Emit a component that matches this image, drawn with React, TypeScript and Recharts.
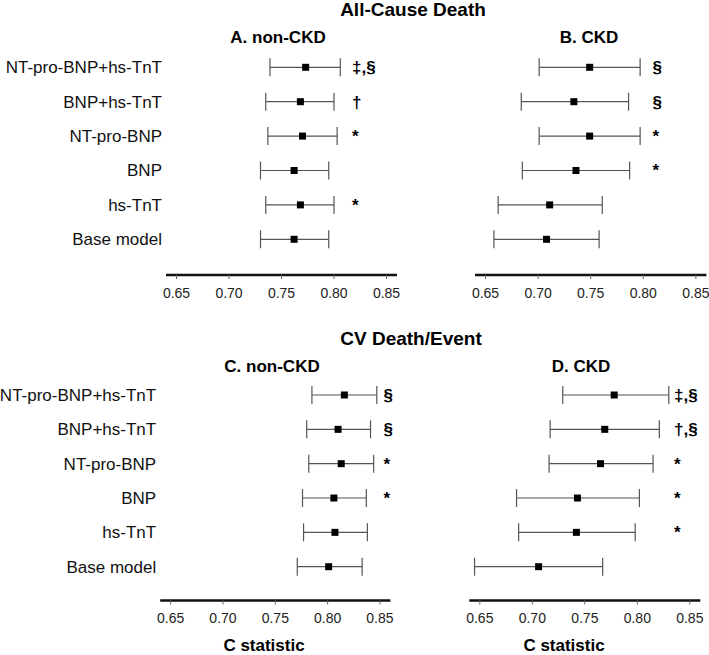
import React from "react";
import { ComposedChart, Scatter, ErrorBar, XAxis, YAxis } from "recharts";

const rowLabels = [
  "NT-pro-BNP+hs-TnT",
  "BNP+hs-TnT",
  "NT-pro-BNP",
  "BNP",
  "hs-TnT",
  "Base model",
];
const xTicks = [0.65, 0.7, 0.75, 0.8, 0.85];

// A. all-cause death, non-CKD
const aEst = [0.773, 0.768, 0.77, 0.762, 0.768, 0.762];
const aLow = [0.739, 0.735, 0.737, 0.73, 0.735, 0.73];
const aHigh = [0.806, 0.8, 0.803, 0.795, 0.8, 0.795];
const aSig = ["‡,§", "†", "*", "", "*", ""];

// B. all-cause death, CKD
const bEst = [0.749, 0.734, 0.749, 0.736, 0.711, 0.708];
const bLow = [0.701, 0.684, 0.701, 0.685, 0.662, 0.658];
const bHigh = [0.797, 0.786, 0.797, 0.787, 0.761, 0.758];
const bSig = ["§", "§", "*", "*", "", ""];

// C. CV death/event, non-CKD
const cEst = [0.816, 0.81, 0.813, 0.806, 0.807, 0.801];
const cLow = [0.785, 0.78, 0.782, 0.776, 0.777, 0.771];
const cHigh = [0.847, 0.841, 0.844, 0.837, 0.838, 0.833];
const cSig = ["§", "§", "*", "*", "", ""];

// D. CV death/event, CKD
const dEst = [0.778, 0.769, 0.765, 0.743, 0.742, 0.706];
const dLow = [0.729, 0.717, 0.716, 0.685, 0.687, 0.645];
const dHigh = [0.83, 0.821, 0.815, 0.802, 0.798, 0.767];
const dSig = ["‡,§", "†,§", "*", "*", "*", ""];

const buildRows = (est: number[], low: number[], high: number[], sig: string[]) =>
  rowLabels.map((name, i) => ({
    name,
    est: est[i],
    err: [est[i] - low[i], high[i] - est[i]],
    sig: sig[i],
  }));

const FONT = "'Liberation Sans', Arial, sans-serif";

type PanelProps = {
  rows: ReturnType<typeof buildRows>;
  left: number;
  top: number;
  width: number;
  height: number;
  margin: { top: number; right: number; bottom: number; left: number };
  labelWidth: number;
  showLabels: boolean;
  padTop: number;
  padBottom: number;
  sigX: number; // distance from the label anchor to the significance column
};

const Square = (props: any) => {
  const { cx, cy } = props;
  if (cx == null || cy == null) return <g />;
  return <rect x={cx - 3.5} y={cy - 3.5} width={7} height={7} fill="#000" />;
};

const Panel: React.FC<PanelProps> = ({
  rows, left, top, width, height, margin, labelWidth, showLabels, padTop, padBottom, sigX,
}) => {
  // row label on the left, significance marks in a column inside the plot
  const rowTick = (p: any) => {
    const row = rows[p.index] ?? rows.find((r) => r.name === p.payload?.value);
    if (!row) return <g />;
    return (
      <g>
        {showLabels && (
          <text x={p.x} y={p.y} dy="0.35em" fontSize={17} fill="#111" textAnchor="end">
            {row.name}
          </text>
        )}
        {row.sig && (
          <text x={p.x + sigX} y={p.y} dy="0.35em" fontSize={17} fontWeight="bold" fill="#000" textAnchor="start">
            {row.sig}
          </text>
        )}
      </g>
    );
  };

  return (
    <div style={{ position: "absolute", left, top }}>
      <ComposedChart layout="vertical" width={width} height={height} data={rows} margin={margin}>
        <XAxis
          type="number"
          domain={[0.64, 0.86]}
          ticks={xTicks}
          allowDataOverflow
          tickFormatter={(v: number) => v.toFixed(2)}
          axisLine={{ stroke: "#111", strokeWidth: 2.5 }}
          tickLine={{ stroke: "#666" }}
          tickSize={4}
          tickMargin={9}
          height={30}
          tick={{ fontSize: 14, fill: "#222" }}
        />
        <YAxis
          type="category"
          dataKey="name"
          width={labelWidth}
          interval={0}
          axisLine={false}
          tickLine={false}
          tickSize={4}
          tickMargin={0}
          padding={{ top: padTop, bottom: padBottom }}
          tick={rowTick}
        />
        <Scatter data={rows} dataKey="est" shape={Square} isAnimationActive={false}>
          <ErrorBar dataKey="err" direction="x" width={9} stroke="#555" strokeWidth={1.2} />
        </Scatter>
      </ComposedChart>
    </div>
  );
};

const Title: React.FC<{ text: string; cx: number; top: number; size: number }> = ({ text, cx, top, size }) => (
  <div
    style={{
      position: "absolute",
      left: cx - 150,
      width: 300,
      top,
      textAlign: "center",
      fontSize: size,
      lineHeight: 1.1,
      fontWeight: "bold",
      color: "#000",
      whiteSpace: "nowrap",
    }}
  >
    {text}
  </div>
);

const App: React.FC = () => {
  const rowsA = buildRows(aEst, aLow, aHigh, aSig);
  const rowsB = buildRows(bEst, bLow, bHigh, bSig);
  const rowsC = buildRows(cEst, cLow, cHigh, cSig);
  const rowsD = buildRows(dEst, dLow, dHigh, dSig);

  return (
    <div
      style={{
        position: "absolute",
        left: 0,
        top: 0,
        width: 709,
        height: 655,
        overflow: "hidden",
        background: "#fff",
        fontFamily: FONT,
      }}
    >
      <Title text="All-Cause Death" cx={413} top={0} size={19} />
      <Title text="A. non-CKD" cx={278} top={29} size={17} />
      <Title text="B. CKD" cx={589} top={29} size={17} />
      <Title text="CV Death/Event" cx={411} top={329} size={19} />
      <Title text="C. non-CKD" cx={272} top={358} size={17} />
      <Title text="D. CKD" cx={581} top={358} size={17} />
      <Title text="C statistic" cx={264} top={637} size={17} />
      <Title text="C statistic" cx={564} top={637} size={17} />

      <Panel
        rows={rowsA}
        left={0}
        top={0}
        width={409}
        height={305}
        margin={{ top: 50, right: 12, bottom: 0, left: 0 }}
        labelWidth={166}
        showLabels
        padTop={17.3}
        padBottom={35.7}
        sigX={190}
      />
      <Panel
        rows={rowsB}
        left={440}
        top={0}
        width={269}
        height={305}
        margin={{ top: 50, right: 2.6, bottom: 0, left: 34 }}
        labelWidth={1}
        showLabels={false}
        padTop={17.3}
        padBottom={35.7}
        sigX={181.6}
      />
      <Panel
        rows={rowsC}
        left={0}
        top={330}
        width={402}
        height={300.5}
        margin={{ top: 48, right: 11.6, bottom: 0, left: 0 }}
        labelWidth={160.2}
        showLabels
        padTop={17}
        padBottom={33.8}
        sigX={227.4}
      />
      <Panel
        rows={rowsD}
        left={440}
        top={330}
        width={269}
        height={300.5}
        margin={{ top: 48, right: 8.7, bottom: 0, left: 28.3 }}
        labelWidth={1}
        showLabels={false}
        padTop={17}
        padBottom={33.8}
        sigX={208.7}
      />
    </div>
  );
};

export default App;
